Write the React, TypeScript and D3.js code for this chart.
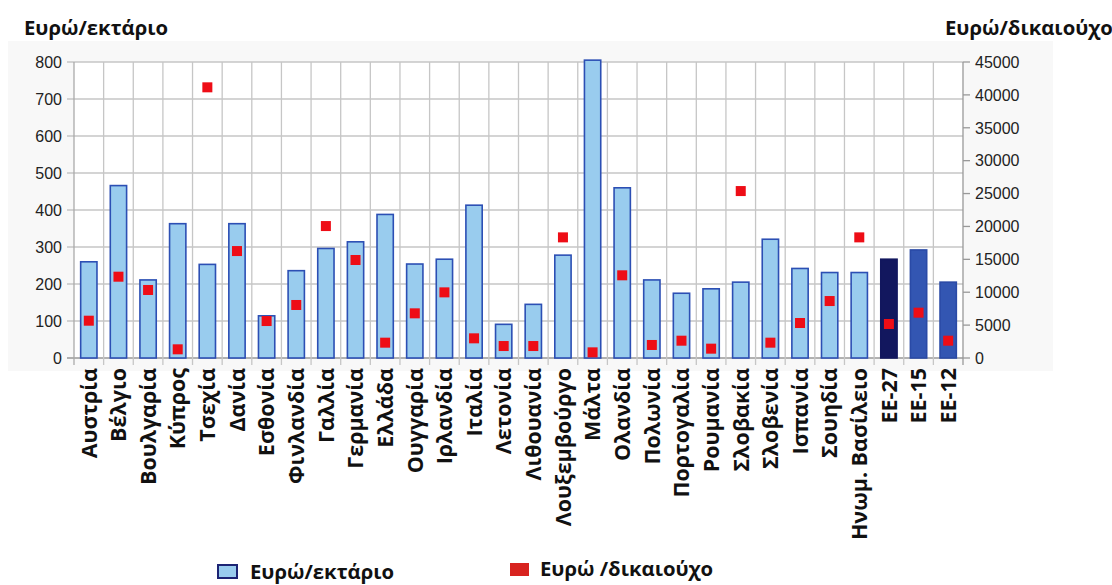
import * as d3 from 'd3'

const countries = [
  'Αυστρία', 'Βέλγιο', 'Βουλγαρία', 'Κύπρος', 'Τσεχία', 'Δανία', 'Εσθονία', 'Φινλανδία',
  'Γαλλία', 'Γερμανία', 'Ελλάδα', 'Ουγγαρία', 'Ιρλανδία', 'Ιταλία', 'Λετονία', 'Λιθουανία',
  'Λουξεμβούργο', 'Μάλτα', 'Ολανδία', 'Πολωνία', 'Πορτογαλία', 'Ρουμανία', 'Σλοβακία',
  'Σλοβενία', 'Ισπανία', 'Σουηδία', 'Ηνωμ. Βασίλειο', 'ΕΕ-27', 'ΕΕ-15', 'ΕΕ-12',
]

// Ευρώ/εκτάριο (left axis)
const perHectare = [
  260, 466, 211, 363, 253, 363, 114, 236, 296, 314, 388, 254, 267, 413, 91,
  145, 278, 805, 460, 211, 175, 187, 205, 321, 242, 231, 231, 267, 292, 205,
]

// Ευρώ/δικαιούχο (right axis)
const perBeneficiary = [
  5670, 12360, 10340, 1320, 41150, 16260, 5620, 8060, 20060, 14900, 2330, 6790, 9980, 2990, 1820,
  1820, 18340, 860, 12570, 1980, 2630, 1420, 25380, 2330, 5320, 8660, 18340, 5170, 6890, 2630,
]

const leftTicks = [0, 100, 200, 300, 400, 500, 600, 700, 800]
const rightTicks = [0, 5000, 10000, 15000, 20000, 25000, 30000, 35000, 40000, 45000]

const barFill: Record<string, string> = { 'ΕΕ-27': '#12175e', 'ΕΕ-15': '#3356b2', 'ΕΕ-12': '#3356b2' }
const barStroke: Record<string, string> = { 'ΕΕ-27': '#12175e', 'ΕΕ-15': '#2a4aa6', 'ΕΕ-12': '#2a4aa6' }

export default function App() {
  const W = 1112
  const H = 585
  const left = 74
  const right = 963
  const top = 62
  const bottom = 358

  const x = d3.scaleBand<string>().domain(countries).range([left, right]).padding(0)
  const yL = d3.scaleLinear().domain([0, 800]).range([bottom, top])
  const yR = d3.scaleLinear().domain([0, 45000]).range([bottom, top])
  const bw = x.bandwidth() * 0.55
  const grid = '#c6c6c6'
  const sq = 10
  const font = 'Open Sans, Noto Sans, sans-serif'
  const tickFont = 'Liberation Sans, Arial, sans-serif'

  return (
    <svg width={W} height={H} style={{ position: 'absolute', left: 0, top: 0, background: '#fff' }}>
      <rect x={8} y={41} width={1045} height={330} fill="#f8f8f8" />
      <rect x={left} y={top} width={right - left} height={bottom - top} fill="#fff" />

      {/* horizontal grid */}
      {leftTicks.map(t => (
        <g key={'h' + t}>
          <line x1={left - 7} x2={right} y1={yL(t)} y2={yL(t)} stroke={t === 0 ? '#999' : grid} strokeWidth={1.3} />
          <text x={left - 12} y={yL(t)} dy="0.36em" textAnchor="end" fontFamily={tickFont}
            fontSize={16} fill="#222">{t}</text>
        </g>
      ))}

      {/* vertical grid */}
      {countries.map((c, i) => (
        <line key={'v' + c} x1={x(c)!} x2={x(c)!} y1={top} y2={bottom + 7} stroke={i === 0 ? '#aaa' : grid} strokeWidth={1.3} />
      ))}

      {/* right axis */}
      <line x1={right} x2={right} y1={top} y2={bottom + 7} stroke="#999" strokeWidth={1.3} />
      {rightTicks.map(t => (
        <g key={'r' + t}>
          <line x1={right} x2={right + 7} y1={yR(t)} y2={yR(t)} stroke="#999" strokeWidth={1.3} />
          <text x={right + 12} y={yR(t)} dy="0.36em" textAnchor="start" fontFamily={tickFont}
            fontSize={16} fill="#222">{t}</text>
        </g>
      ))}

      {/* bars */}
      {countries.map((c, i) => (
        <rect key={'b' + c} x={x(c)! + (x.bandwidth() - bw) / 2} y={yL(perHectare[i])} width={bw}
          height={bottom - yL(perHectare[i])} fill={barFill[c] ?? '#99ccee'} stroke={barStroke[c] ?? '#2c4fb4'} strokeWidth={1.6} />
      ))}

      {/* red markers */}
      {countries.map((c, i) => (
        <rect key={'m' + c} x={x(c)! + x.bandwidth() / 2 - sq / 2} y={yR(perBeneficiary[i]) - sq / 2} width={sq} height={sq} fill="#ee0d16" />
      ))}

      {/* category labels */}
      {countries.map(c => {
        const cx = x(c)! + x.bandwidth() / 2
        return (
          <text key={'l' + c} transform={`translate(${cx},368) rotate(-90)`} dy="0.36em" textAnchor="end"
            fontFamily={font} fontWeight={700} fontSize={21.5} fill="#111">{c}</text>
        )
      })}

      {/* axis titles */}
      <text x={24} y={35} fontFamily={font} fontWeight={700} fontSize={20.3} fill="#111">Ευρώ/εκτάριο</text>
      <text x={945} y={35} fontFamily={font} fontWeight={700} fontSize={20.3} fill="#111">Ευρώ/δικαιούχο</text>

      {/* legend */}
      <rect x={218} y={565} width={19} height={13} fill="#99ccee" stroke="#1c2474" strokeWidth={2} />
      <text x={250} y={579} fontFamily={font} fontWeight={700} fontSize={20.3} fill="#111">Ευρώ/εκτάριο</text>
      <rect x={510} y={563} width={19} height={13} fill="#d8231f" />
      <text x={540} y={576} fontFamily={font} fontWeight={700} fontSize={20.3} fill="#111">Ευρώ /δικαιούχο</text>
    </svg>
  )
}
